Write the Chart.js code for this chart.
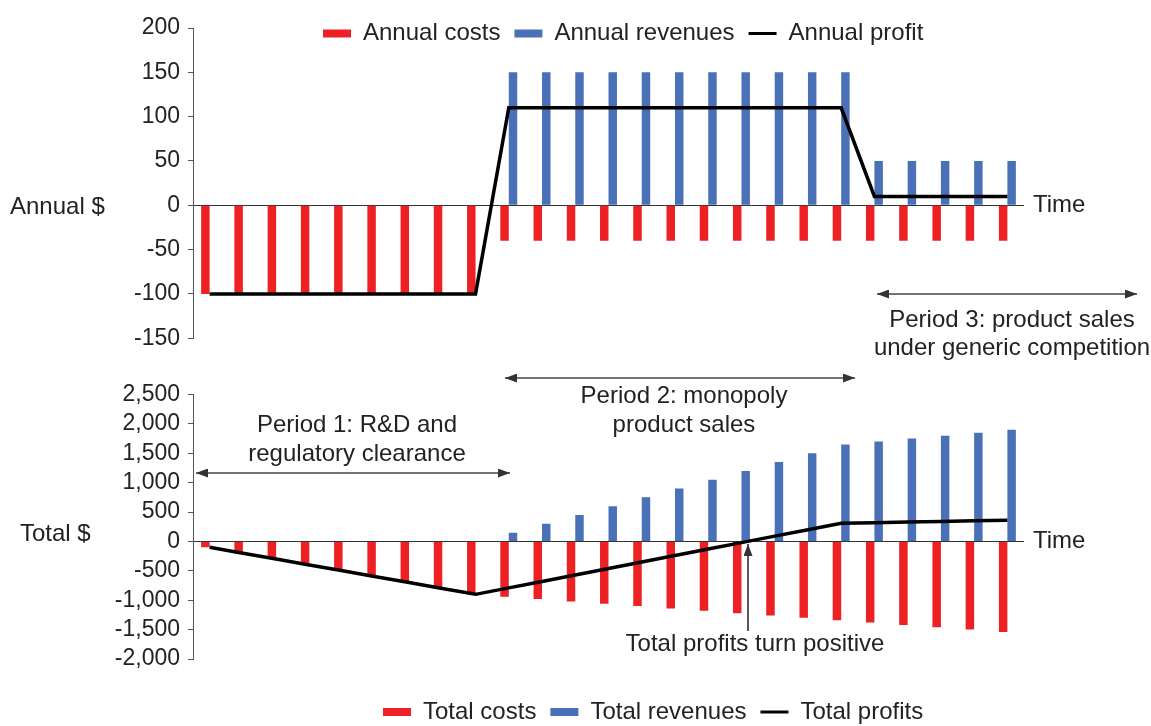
<!DOCTYPE html>
<html lang="en">
<head>
<meta charset="UTF-8">
<title>Annual and total costs, revenues and profits over time</title>
<script src="https://cdn.jsdelivr.net/npm/chart.js"></script>
<style>
  body { margin: 0; background: #fff; }
  #figure { position: relative; width: 1151px; height: 726px; font-family: "Liberation Sans", Arial, sans-serif; color: #222; }
  #figure canvas { position: absolute; left: 0; }
  #figure svg { position: absolute; left: 0; top: 0; }
  .note { position: absolute; font-size: 24px; line-height: 28px; white-space: nowrap; }
  .mid { transform: translateX(-50%); text-align: center; }
</style>
</head>
<body>
<div id="figure">
  <canvas id="annualChart" width="1151" height="360" style="top:0"></canvas>
  <canvas id="totalChart" width="1151" height="366" style="top:360px"></canvas>

  <svg width="1151" height="726">
    <defs>
      <marker id="head" markerWidth="12" markerHeight="9" refX="12" refY="4.5" orient="auto-start-reverse" markerUnits="userSpaceOnUse">
        <path d="M0,0 L12,4.5 L0,9 z" fill="#333"></path>
      </marker>
    </defs>
    <line x1="877" y1="294" x2="1137" y2="294" stroke="#444" stroke-width="1.5" marker-start="url(#head)" marker-end="url(#head)"></line>
    <line x1="505" y1="378" x2="855" y2="378" stroke="#444" stroke-width="1.5" marker-start="url(#head)" marker-end="url(#head)"></line>
    <line x1="196" y1="473" x2="510" y2="473" stroke="#444" stroke-width="1.5" marker-start="url(#head)" marker-end="url(#head)"></line>
    <line x1="748" y1="631" x2="748" y2="544" stroke="#222" stroke-width="1.5" marker-end="url(#head)"></line>
  </svg>

  <div class="note" style="left:10px; top:192px">Annual $</div>
  <div class="note" style="left:20px; top:519px">Total $</div>
  <div class="note" style="left:1033px; top:190px">Time</div>
  <div class="note" style="left:1033px; top:526px">Time</div>
  <div class="note mid" style="left:1012px; top:305px">Period 3: product sales<br>under generic competition</div>
  <div class="note mid" style="left:684px; top:380px; line-height:29px">Period 2: monopoly<br>product sales</div>
  <div class="note mid" style="left:357px; top:409px; line-height:29px">Period 1: R&amp;D and<br>regulatory clearance</div>
  <div class="note mid" style="left:755px; top:629px">Total profits turn positive</div>
</div>

<script>
// 25 time periods
const periods = ['1', '2', '3', '4', '5', '6', '7', '8', '9', '10', '11', '12', '13',
                 '14', '15', '16', '17', '18', '19', '20', '21', '22', '23', '24', '25'];

// upper panel, annual $
const annualCosts = [-100, -100, -100, -100, -100, -100, -100, -100, -100,
                     -40, -40, -40, -40, -40, -40, -40, -40, -40, -40, -40,
                     -40, -40, -40, -40, -40];
const annualRevenues = [0, 0, 0, 0, 0, 0, 0, 0, 0,
                        150, 150, 150, 150, 150, 150, 150, 150, 150, 150, 150,
                        50, 50, 50, 50, 50];
const annualProfit = [-100, -100, -100, -100, -100, -100, -100, -100, -100,
                      110, 110, 110, 110, 110, 110, 110, 110, 110, 110, 110,
                      10, 10, 10, 10, 10];

// lower panel, total $
const totalCosts = [-100, -200, -300, -400, -500, -600, -700, -800, -900,
                    -940, -980, -1020, -1060, -1100, -1140, -1180, -1220, -1260, -1300, -1340,
                    -1380, -1420, -1460, -1500, -1540];
const totalRevenues = [0, 0, 0, 0, 0, 0, 0, 0, 0,
                       150, 300, 450, 600, 750, 900, 1050, 1200, 1350, 1500, 1650,
                       1700, 1750, 1800, 1850, 1900];
const totalProfits = [-100, -200, -300, -400, -500, -600, -700, -800, -900,
                      -790, -680, -570, -460, -350, -240, -130, -20, 90, 200, 310,
                      320, 330, 340, 350, 360];

const red = '#ED2024';
const blue = '#4A71B8';

Chart.defaults.font.family = '"Liberation Sans", Arial, sans-serif';
Chart.defaults.color = '#222';

// legend is drawn inside the figure and takes no room from the plot
const placeLegend = {
    id: 'placeLegend',
    beforeLayout(chart) {
        const lg = chart.legend;
        if (lg && !lg._noHeight) {
            const fit = lg.fit;
            lg.fit = function () { fit.call(this); this.height = 0; };
            lg._noHeight = true;
        }
    },
    afterLayout(chart, args, opts) {
        const lg = chart.legend;
        lg.left = opts.left;
        lg.right = chart.width;
        lg.top = opts.top;
        lg.bottom = opts.top + 50;
        lg.width = lg.right - lg.left;
        lg.height = 50;
    }
};

function legendItems(chart) {
    return chart.data.datasets.map((ds, i) => {
        const isLine = ds.type === 'line';
        const c = isLine ? ds.borderColor : ds.backgroundColor;
        return {
            text: ds.label, fillStyle: c, strokeStyle: c,
            lineWidth: isLine ? 3 : 0, pointStyle: isLine ? 'line' : 'rect',
            hidden: false, datasetIndex: i, fontColor: '#222'
        };
    });
}

function drawPanel(id, names, costs, revenues, profit, yMin, yMax, yStep, pad, legendAt, fmt) {
    return new Chart(document.getElementById(id), {
        type: 'bar',
        data: {
            labels: periods,
            datasets: [
                { label: names[0], data: costs, backgroundColor: red, categoryPercentage: 0.51, barPercentage: 1, order: 1 },
                { label: names[1], data: revenues, backgroundColor: blue, categoryPercentage: 0.51, barPercentage: 1, order: 1 },
                { type: 'line', label: names[2], data: profit, borderColor: '#000', borderWidth: 3.5,
                  pointRadius: 0, borderJoinStyle: 'miter', tension: 0, order: 0 }
            ]
        },
        options: {
            responsive: false,
            animation: false,
            layout: { padding: pad },
            scales: {
                x: { display: false },
                y: {
                    min: yMin, max: yMax,
                    afterFit: s => { s.width = 193; },
                    ticks: { stepSize: yStep, autoSkip: false, padding: 8, font: { size: 23 }, color: '#222', callback: fmt },
                    grid: {
                        color: c => (c.tick && c.tick.value === 0) ? '#333' : 'rgba(0,0,0,0)',
                        tickColor: '#555', tickLength: 5, lineWidth: 1
                    },
                    border: { color: '#555', width: 1 }
                }
            },
            plugins: {
                tooltip: { enabled: false },
                legend: {
                    position: 'top',
                    align: 'start',
                    labels: {
                        usePointStyle: true, pointStyleWidth: 28, boxHeight: 8, padding: 14,
                        font: { size: 24 }, color: '#222', generateLabels: legendItems
                    }
                },
                placeLegend: legendAt
            }
        },
        plugins: [placeLegend]
    });
}

drawPanel('annualChart', ['Annual costs', 'Annual revenues', 'Annual profit'],
    annualCosts, annualRevenues, annualProfit, -150, 200, 50,
    { top: 28, bottom: 20.5, left: 0, right: 127 }, { left: 309, top: 7.5 },
    v => v);

drawPanel('totalChart', ['Total costs', 'Total revenues', 'Total profits'],
    totalCosts, totalRevenues, totalProfits, -2000, 2500, 500,
    { top: 34.5, bottom: 67, left: 0, right: 127 }, { left: 369, top: 326 },
    v => v.toLocaleString('en-US'));
</script>
</body>
</html>
